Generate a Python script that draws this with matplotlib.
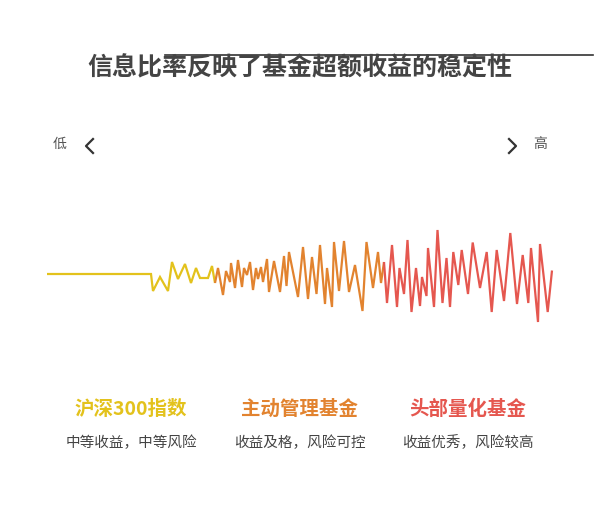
import matplotlib
matplotlib.use("Agg")
import matplotlib.pyplot as plt

plt.rcParams['font.family'] = ['Noto Sans CJK SC', 'DejaVu Sans']

# wave data: horizontal position and excess-return swing (up = positive)
hs300_x = [47, 151, 153, 160, 168, 172, 178, 185, 191, 196, 200, 208, 212, 215]
hs300_v = [0, 0, -17, -3, -17, 12, -5, 10, -9, 6, -4, -4, 8, -9]

active_x = [215, 218, 223, 226, 230, 231, 235, 238, 242, 244, 247, 250, 253, 256,
            258, 261, 263, 267, 269, 274, 280, 284, 286.5, 289, 298, 303, 308, 312,
            316.5, 320, 325, 327, 332, 334, 339, 344, 349, 355, 362.5, 366.5, 373,
            378, 381, 384]
active_v = [-9, 6, -21, 3, -8, 11, -14, 14, -13, 6, -1, 12, -16, 6,
            -5, 7, -8, 15, -18, 13, -18, 18, -12, 22, -23, 27, -25, 17,
            -20, 29, -30, 6, -33, 32, -17, 33, -18, 9, -37, 32, -14,
            22, -9, 12]

quant_x = [384, 387, 392, 397, 399.5, 404, 407.5, 411.5, 416, 420, 422, 426.5, 428,
           434, 437.5, 442.5, 446.5, 450, 453.3, 458.3, 461.7, 468, 472.7, 480, 486.7,
           491.7, 496.7, 504, 510.3, 517, 522.7, 528.3, 531, 538, 540, 547.7, 552]
quant_v = [12, -29, 29, -33, 6, -20, 34, -38, 6, -32, -3, -22, 26,
           -33, 44, -29, 16, -33, 22, -11, 24, -20, 31.5, -14, 22,
           -38, 24, -27, 41, -30, 19, -29, 26, -48, 30, -38, 3.5]

names = ['沪深300指数', '主动管理基金', '头部量化基金']
notes = ['中等收益，中等风险', '收益及格，风险可控', '收益优秀，风险较高']
colors = ['#E3C21C', '#E2832F', '#E5574F']
label_x = [131, 300, 468]

fig = plt.figure(figsize=(6, 5.28), dpi=100, facecolor='white')
ax = fig.add_axes([0, 0, 1, 1])
ax.set_xlim(0, 600)
ax.set_ylim(-254, 274)   # value 0 sits at pixel row 274
ax.axis('off')

for xs, vs, c in zip([hs300_x, active_x, quant_x], [hs300_v, active_v, quant_v], colors):
    ax.plot(xs, vs, color=c, lw=1.6, solid_joinstyle='miter', solid_capstyle='butt')

def py(p):
    return 274 - p

# title and the rule behind it
ax.text(300, py(68), '信息比率反映了基金超额收益的稳定性', ha='center', va='center',
        fontsize=18, fontweight='bold', color='#444444')
ax.plot([165, 593], [py(55), py(55)], color='#333333', lw=1.2)

# low / high scale
ax.text(60, py(144), '低', ha='center', va='center', fontsize=10, color='#555555')
ax.text(540, py(144), '高', ha='center', va='center', fontsize=10, color='#555555')
ax.plot([93, 86, 93], [py(139), py(146), py(153)], color='#333333', lw=1.6)
ax.plot([509, 516, 509], [py(139), py(146), py(153)], color='#333333', lw=1.6)

for n, t, c, x in zip(names, notes, colors, label_x):
    ax.text(x, py(409), n, ha='center', va='center', fontsize=14, fontweight='bold', color=c)
    ax.text(x, py(443), t, ha='center', va='center', fontsize=10.5, color='#444444')

fig.savefig('out.png', dpi=100, facecolor='white')
